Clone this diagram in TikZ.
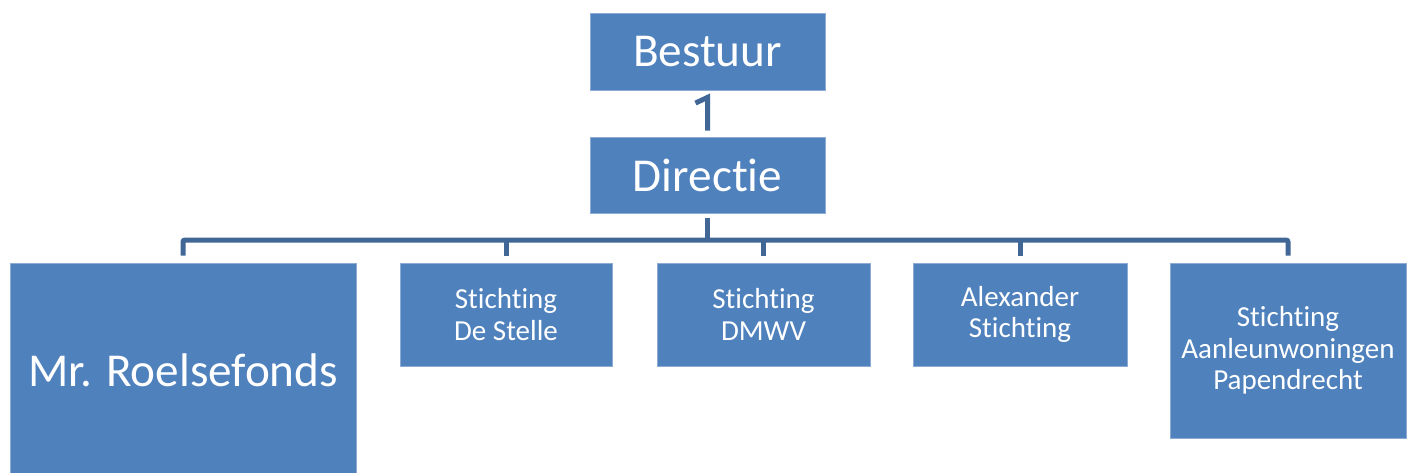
\documentclass[tikz,border=0pt]{standalone}
\usepackage{fontspec}
\setmainfont[Ligatures=NoCommon]{Carlito}
\usetikzlibrary{calc}
\definecolor{boxblue}{RGB}{79,129,189}
\definecolor{boxedge}{RGB}{140,172,214}
\definecolor{linkblue}{RGB}{64,103,150}
\begin{document}
\begin{tikzpicture}[x=0.75pt,y=0.75pt,yscale=-1,xscale=1,
  unit/.style={draw=boxedge,line width=0.6pt,fill=boxblue,text=white,inner sep=0pt,align=center},
  bigunit/.style={unit,font=\fontsize{35.4}{39}\selectfont},
  smallunit/.style={unit,font=\fontsize{21.75}{23.75}\selectfont},
  link/.style={draw=linkblue,line width=3.75pt}]
\clip (0,0) rectangle (1413,472);
\useasboundingbox (0,0) rectangle (1413,472);

%Shape: Rectangle
\node [bigunit,minimum width=176.25pt,minimum height=57.75pt] (bestuur) at (707.5,51.5) {Bestuur};
%Shape: Rectangle
\node [bigunit,minimum width=176.25pt,minimum height=57pt] (directie) at (707.5,175) {Directie};
%Shape: Rectangle
\node [bigunit,minimum width=259.5pt,minimum height=161.25pt] (roelse) at (183,370.5) {Mr. Roelsefonds};
%Shape: Rectangle
\node [smallunit,minimum width=159pt,minimum height=77.25pt] (stelle) at (506,314.5) {Stichting\\De Stelle};
%Shape: Rectangle
\node [smallunit,minimum width=159.75pt,minimum height=77.25pt] (dmwv) at (763.5,314.5) {Stichting\\DMWV};
%Shape: Rectangle
\node [smallunit,minimum width=160.5pt,minimum height=77.25pt] (alex) at (1020,314.5) {Alexander\\Stichting};
%Shape: Rectangle
\node [smallunit,minimum width=177pt,minimum height=131.25pt] (aanleun) at (1288,350.5) {Stichting\\Aanleunwoningen\\Papendrecht};

%Straight Lines
\draw [link,line join=miter] ([xshift=-9pt,yshift=9.5pt]bestuur.south) -- ([yshift=5.25pt]bestuur.south) -- ([yshift=-4.5pt]directie.north);
%Straight Lines
\coordinate (bus) at (707.5,240);
\draw [link] ([yshift=3.75pt]directie.south) -- (bus);
\draw [link,rounded corners=1.5pt] ([yshift=-5.25pt]roelse.north) |- (bus) -| ([yshift=-5.25pt]aanleun.north);
\foreach \n in {stelle,dmwv,alex}
  \draw [link] ([yshift=-5.25pt]\n.north) -- (\n.north |- bus);
\end{tikzpicture}
\end{document}
